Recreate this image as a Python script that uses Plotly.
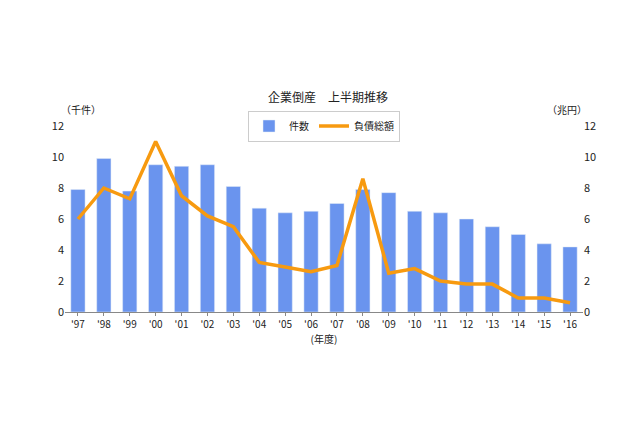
import plotly.graph_objects as go

years = ["'97","'98","'99","'00","'01","'02","'03","'04","'05","'06","'07","'08","'09","'10","'11","'12","'13","'14","'15","'16"]
counts = [7.9,9.9,7.8,9.5,9.4,9.5,8.1,6.7,6.4,6.5,7.0,7.9,7.7,6.5,6.4,6.0,5.5,5.0,4.4,4.2]
debt = [6.0,8.0,7.3,11.0,7.5,6.2,5.5,3.2,2.9,2.6,3.0,8.6,2.5,2.8,2.0,1.8,1.8,0.9,0.9,0.6]

font = "Noto Sans CJK JP"
fig = go.Figure()
fig.add_bar(x=years, y=counts, name="件数", marker_color="#6A94EE", width=0.55)
fig.add_scatter(x=years, y=debt, name="負債総額", yaxis="y2", mode="lines",
                line=dict(color="#F79A10", width=3.5))
fig.update_layout(
    width=640, height=426, margin=dict(l=57, r=65, t=118, b=122, autoexpand=False),
    plot_bgcolor="white", paper_bgcolor="white",
    font=dict(family=font, size=11, color="#222"),
    title=dict(text="企業倒産　上半期推移", x=0.5, y=1-90/426, yref="container", xanchor="center",
               yanchor="middle", font=dict(size=12)),
    showlegend=True,
    legend=dict(orientation="h", x=0.5, xanchor="center", y=1.0, yanchor="middle",
                bgcolor="white", bordercolor="#ccc", borderwidth=1, font=dict(size=10)),
    bargap=0.45,
    xaxis=dict(showline=True, linecolor="#888", ticks="outside", ticklen=3, tickcolor="#888",
               tickfont=dict(size=10), title=dict(text="(年度)", font=dict(size=10), standoff=2)),
    yaxis=dict(range=[0,12], dtick=2, showgrid=False, showline=False, tickfont=dict(size=11)),
    yaxis2=dict(range=[0,12], dtick=2, overlaying="y", side="right", showgrid=False,
                tickfont=dict(size=11)),
    annotations=[
        dict(text="（千件）", x=0.03, y=1.14, xref="paper", yref="paper", xanchor="center", showarrow=False, font=dict(size=10)),
        dict(text="（兆円）", x=0.97, y=1.14, xref="paper", yref="paper", xanchor="center", showarrow=False, font=dict(size=10)),
    ],
)
fig.write_html("out.html")
